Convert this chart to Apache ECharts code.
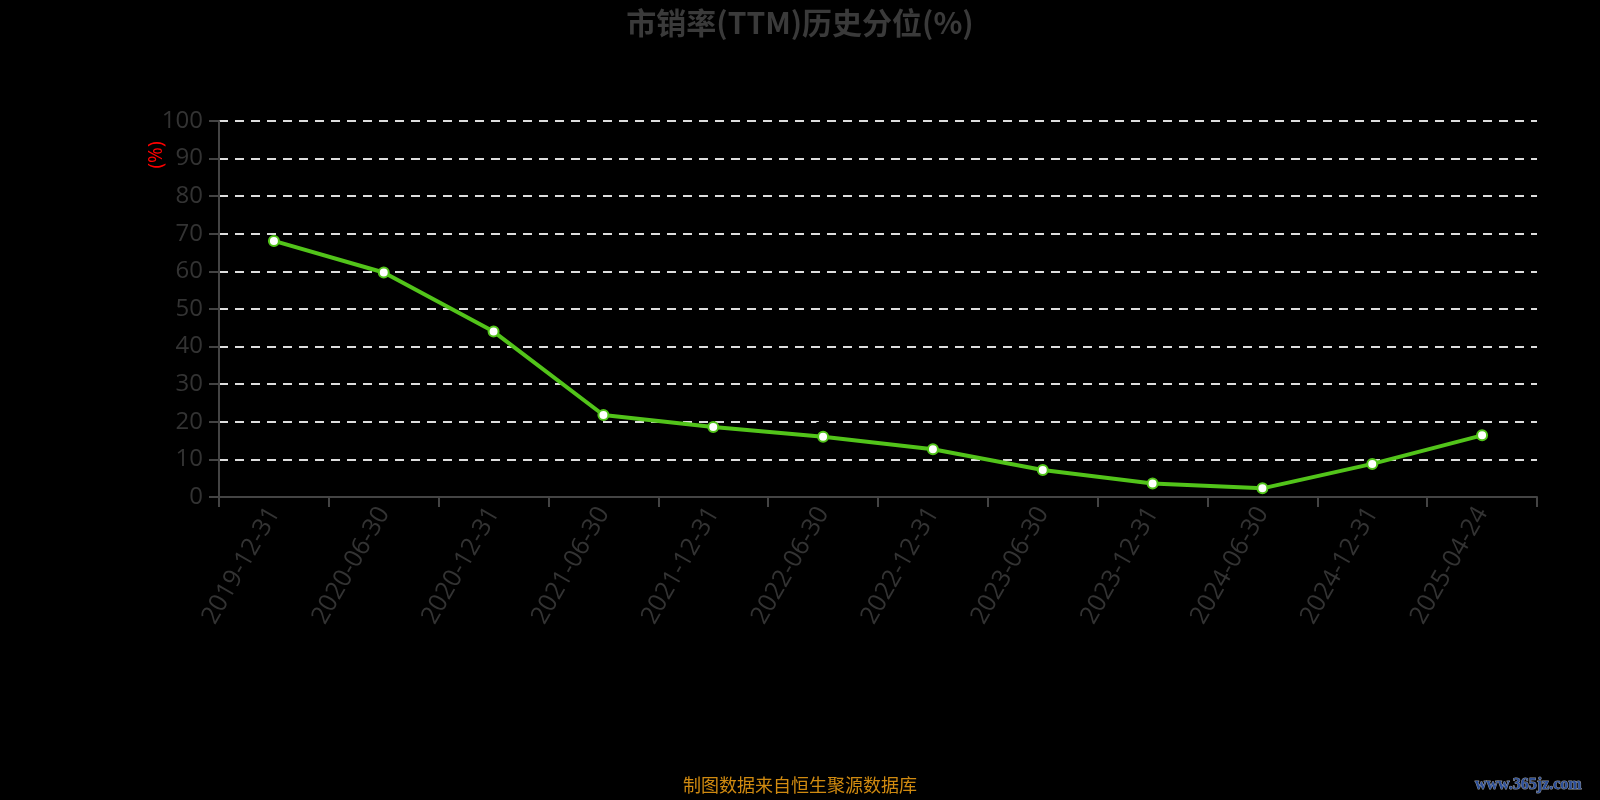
<!DOCTYPE html>
<html><head><meta charset="utf-8">
<script src="https://cdn.jsdelivr.net/npm/echarts@6/dist/echarts.min.js"></script>
<style>html,body{margin:0;padding:0;background:#000;}#c{width:1600px;height:800px;}</style>
</head><body><div id="c"></div>
<script>
var categories = ['2019-12-31','2020-06-30','2020-12-31','2021-06-30','2021-12-31','2022-06-30','2022-12-31','2023-06-30','2023-12-31','2024-06-30','2024-12-31','2025-04-24'];
var percentile = [68.1, 59.7, 44.0, 21.8, 18.6, 16.0, 12.7, 7.2, 3.6, 2.3, 8.8, 16.4];
var titleText = '市销率(TTM)历史分位(%)';
var sourceText = '制图数据来自恒生聚源数据库';

var chart = echarts.init(document.getElementById('c'));
chart.setOption({
  backgroundColor: '#000',
  animation: false,
  title: {
    text: titleText, left: 'center', top: 3,
    textStyle: {color: '#3a3a3a', fontSize: 30, fontWeight: 'bold', fontFamily: 'Noto Sans CJK SC'}
  },
  grid: {left: 219, right: 63, top: 121, bottom: 303, containLabel: false},
  xAxis: {
    type: 'category', data: categories, boundaryGap: true,
    axisLine: {lineStyle: {color: '#444', width: 2}},
    axisTick: {show: true, length: 10, lineStyle: {color: '#444', width: 2}},
    axisLabel: {rotate: 60, color: '#333', fontSize: 25, fontFamily: 'Open Sans', margin: 12}
  },
  yAxis: {
    type: 'value', min: 0, max: 100, interval: 10,
    axisLine: {show: true, lineStyle: {color: '#444', width: 2}},
    axisTick: {show: true, length: 10, lineStyle: {color: '#444', width: 2}},
    axisLabel: {color: '#333', fontSize: 24, fontFamily: 'Open Sans', margin: 16},
    splitLine: {lineStyle: {color: '#ddd', type: [9, 7], width: 2}}
  },
  graphic: [
    {type: 'text', x: 157, y: 155, rotation: Math.PI / 2,
     style: {text: '(%)', fill: '#ff0000', font: '19px "Noto Sans"', textAlign: 'center', textVerticalAlign: 'middle'}},
    {type: 'text', left: 'center', top: 776,
     style: {text: sourceText, fill: '#d08a10', font: '18px "Noto Sans CJK SC"'}},
    {type: 'text', x: 1475, y: 777,
     style: {text: 'www.365jz.com', fill: '#2a4e9a', stroke: '#999', lineWidth: 1, font: 'bold 16px "Liberation Serif"'}}
  ],
  series: [{
    type: 'line', data: percentile,
    lineStyle: {color: '#52c41a', width: 4},
    itemStyle: {color: '#fff', borderColor: '#52c41a', borderWidth: 2},
    symbol: 'circle', symbolSize: 10,
    label: {show: true, position: 'top', color: '#000', fontSize: 14}
  }]
});
</script></body></html>
